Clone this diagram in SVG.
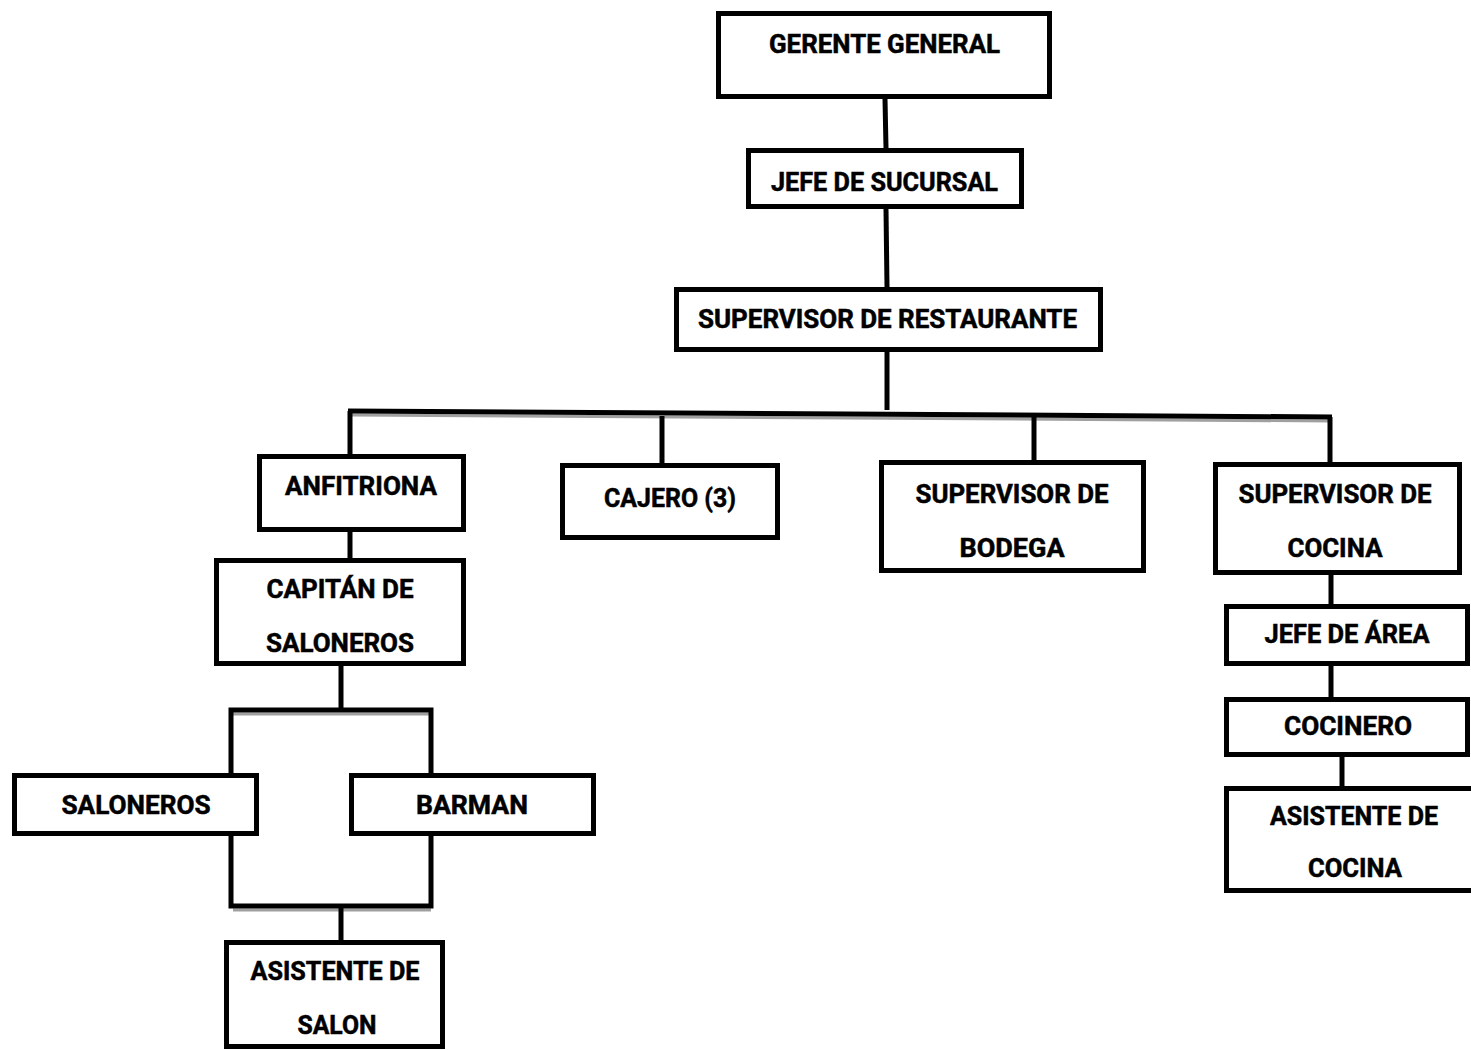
<svg xmlns="http://www.w3.org/2000/svg" width="1471" height="1050" viewBox="0 0 1471 1050">
<style>
  .box { fill: #ffffff; stroke: #000000; stroke-width: 5; }
  .lbl { font-family: Roboto, "Open Sans", "Liberation Sans", sans-serif; font-weight: bold; font-size: 25px; fill: #000000; stroke: #000000; stroke-width: 0.5; text-anchor: middle; }
  .ln { fill: none; stroke: #000000; stroke-width: 5; stroke-linecap: butt; }
  .sh { fill: none; stroke: #a0a0a0; stroke-width: 3; }
</style>
<rect x="0" y="0" width="1471" height="1050" fill="#ffffff"/>
<g id="connectors">
  <line class="ln" x1="885" y1="99" x2="886" y2="148"/>
  <line class="ln" x1="886" y1="209" x2="887" y2="287"/>
  <line class="ln" x1="887" y1="352" x2="887" y2="410"/>
  <line class="sh" x1="352" y1="415" x2="1332" y2="421"/>
  <line class="ln" x1="348" y1="411" x2="1332" y2="417"/>
  <line class="ln" x1="350" y1="411" x2="350" y2="456"/>
  <line class="ln" x1="350" y1="532" x2="350" y2="560"/>
  <line class="ln" x1="662" y1="416" x2="662" y2="465"/>
  <line class="ln" x1="1034" y1="417" x2="1034" y2="462"/>
  <line class="ln" x1="1330" y1="417" x2="1330" y2="464"/>
  <line class="ln" x1="1331" y1="575" x2="1331" y2="606"/>
  <line class="ln" x1="1331" y1="666" x2="1331" y2="699"/>
  <line class="ln" x1="1342" y1="757" x2="1342" y2="788"/>
  <line class="ln" x1="341" y1="666" x2="341" y2="710"/>
  <line class="sh" x1="233" y1="714" x2="431" y2="714"/>
  <path class="ln" d="M231,775 V710 H431 V775"/>
  <line class="sh" x1="233" y1="910" x2="431" y2="910"/>
  <path class="ln" d="M231,834 V906 H431 V834"/>
  <line class="ln" x1="341" y1="906" x2="341" y2="942"/>
</g>
<g id="gerente-general">
  <rect class="box" x="718.5" y="13.5" width="331" height="83"/>
  <text class="lbl" x="884.5" y="53" textLength="231" lengthAdjust="spacingAndGlyphs">GERENTE GENERAL</text>
</g>
<g id="jefe-sucursal">
  <rect class="box" x="748.5" y="150.5" width="273" height="56"/>
  <text class="lbl" x="884.5" y="191" textLength="227" lengthAdjust="spacingAndGlyphs">JEFE DE SUCURSAL</text>
</g>
<g id="supervisor-restaurante">
  <rect class="box" x="676.5" y="289.5" width="424" height="60"/>
  <text class="lbl" x="887.5" y="328" textLength="379" lengthAdjust="spacingAndGlyphs">SUPERVISOR DE RESTAURANTE</text>
</g>
<g id="anfitriona">
  <rect class="box" x="259.5" y="456.5" width="204" height="73"/>
  <text class="lbl" x="361" y="495" textLength="152" lengthAdjust="spacingAndGlyphs">ANFITRIONA</text>
</g>
<g id="cajero">
  <rect class="box" x="562.5" y="465.5" width="215" height="72"/>
  <text class="lbl" x="670" y="507" textLength="132" lengthAdjust="spacingAndGlyphs">CAJERO (3)</text>
</g>
<g id="supervisor-bodega">
  <rect class="box" x="881.5" y="462.5" width="262" height="108"/>
  <text class="lbl" x="1012" y="503" textLength="193" lengthAdjust="spacingAndGlyphs">SUPERVISOR DE</text>
  <text class="lbl" x="1012" y="557" textLength="105" lengthAdjust="spacingAndGlyphs">BODEGA</text>
</g>
<g id="supervisor-cocina">
  <rect class="box" x="1215.5" y="464.5" width="244" height="108"/>
  <text class="lbl" x="1335" y="503" textLength="193" lengthAdjust="spacingAndGlyphs">SUPERVISOR DE</text>
  <text class="lbl" x="1335" y="557" textLength="95" lengthAdjust="spacingAndGlyphs">COCINA</text>
</g>
<g id="capitan-saloneros">
  <rect class="box" x="216.5" y="560.5" width="247" height="103"/>
  <text class="lbl" x="340" y="598" textLength="147" lengthAdjust="spacingAndGlyphs">CAPITÁN DE</text>
  <text class="lbl" x="340" y="652" textLength="148" lengthAdjust="spacingAndGlyphs">SALONEROS</text>
</g>
<g id="saloneros">
  <rect class="box" x="14.5" y="775.5" width="242" height="58"/>
  <text class="lbl" x="136" y="814" textLength="149" lengthAdjust="spacingAndGlyphs">SALONEROS</text>
</g>
<g id="barman">
  <rect class="box" x="351.5" y="775.5" width="242" height="58"/>
  <text class="lbl" x="472" y="814" textLength="112" lengthAdjust="spacingAndGlyphs">BARMAN</text>
</g>
<g id="asistente-salon">
  <rect class="box" x="226.5" y="942.5" width="216" height="104"/>
  <text class="lbl" x="335" y="980" textLength="169" lengthAdjust="spacingAndGlyphs">ASISTENTE DE</text>
  <text class="lbl" x="337" y="1034" textLength="79" lengthAdjust="spacingAndGlyphs">SALON</text>
</g>
<g id="jefe-area">
  <rect class="box" x="1226.5" y="606.5" width="241" height="57"/>
  <text class="lbl" x="1347" y="643" textLength="165" lengthAdjust="spacingAndGlyphs">JEFE DE ÁREA</text>
</g>
<g id="cocinero">
  <rect class="box" x="1226.5" y="699.5" width="241" height="55"/>
  <text class="lbl" x="1348" y="735" textLength="128" lengthAdjust="spacingAndGlyphs">COCINERO</text>
</g>
<g id="asistente-cocina">
  <rect class="box" x="1226.5" y="788.5" width="250" height="102"/>
  <text class="lbl" x="1354" y="825" textLength="168" lengthAdjust="spacingAndGlyphs">ASISTENTE DE</text>
  <text class="lbl" x="1355" y="877" textLength="94" lengthAdjust="spacingAndGlyphs">COCINA</text>
</g>
</svg>
